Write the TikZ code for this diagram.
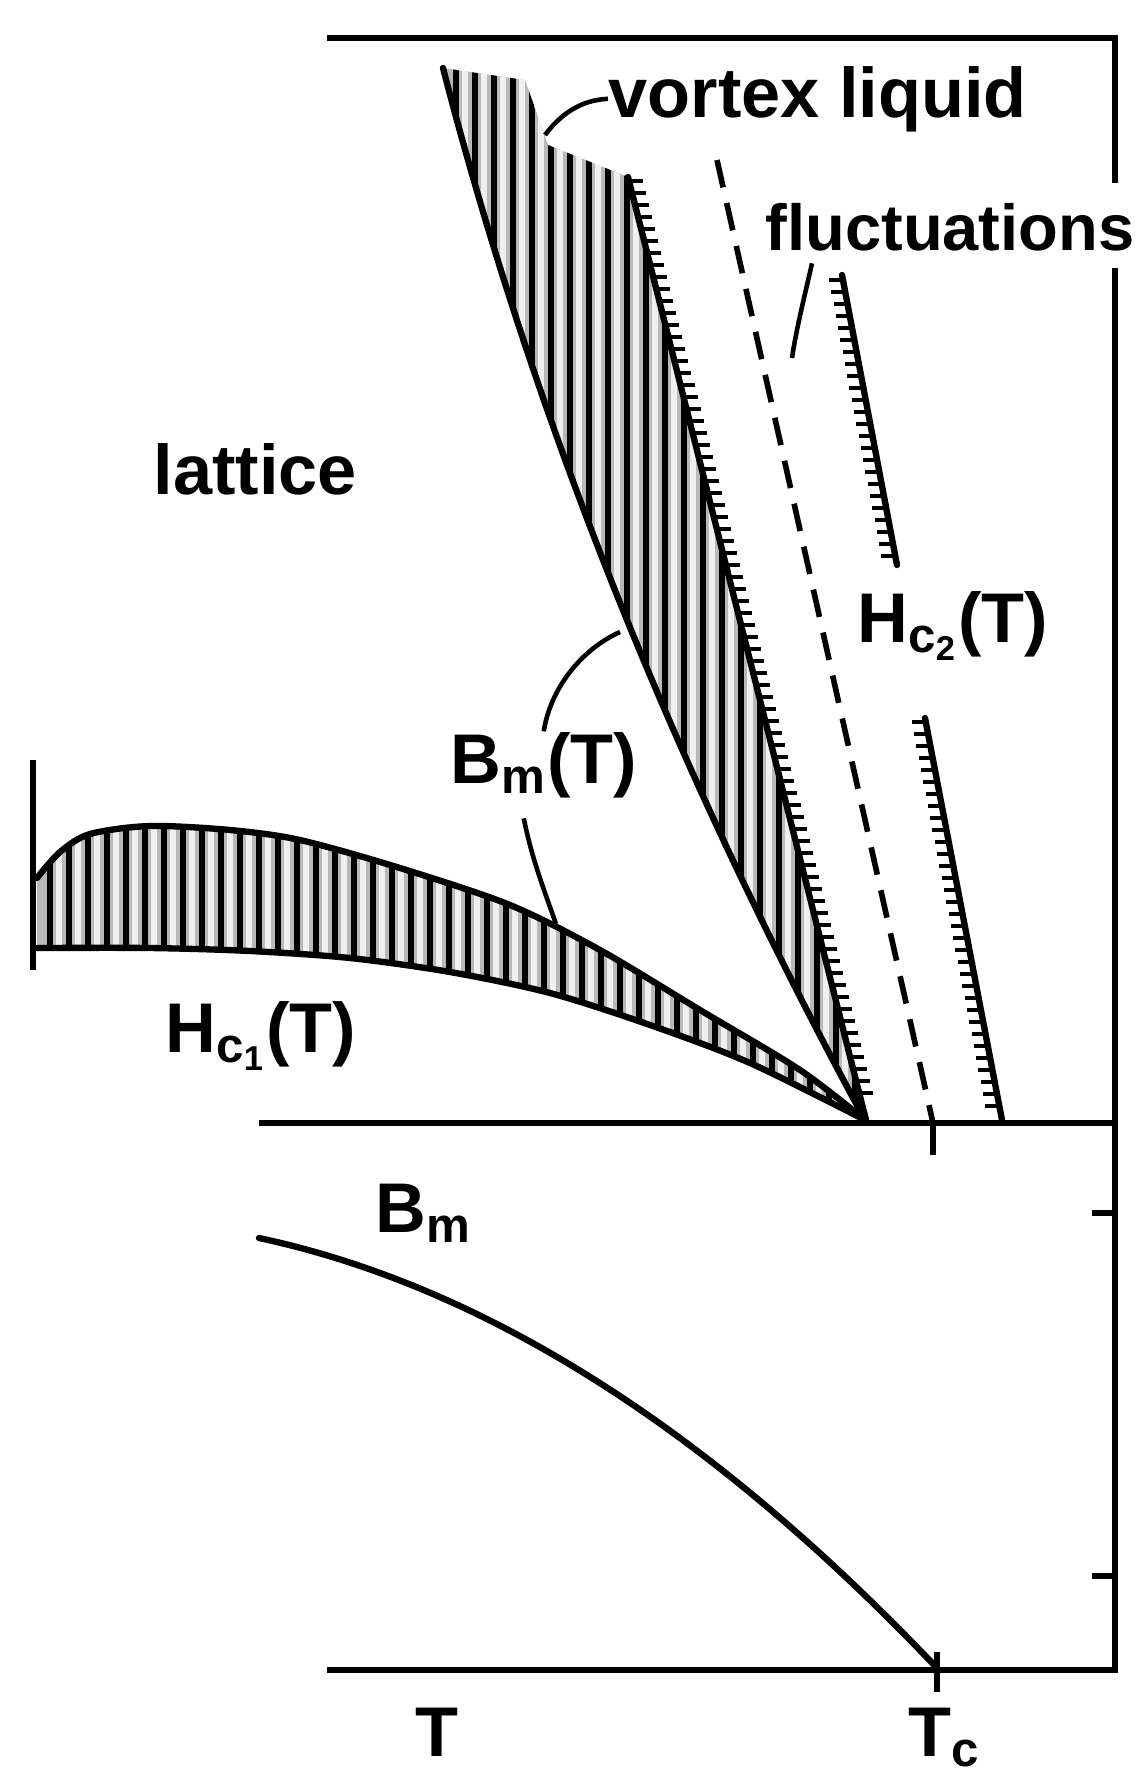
\documentclass[tikz,border=0pt]{standalone}
\usepackage{fontspec}
\setmainfont{Liberation Sans}
\tikzset{
	lbl/.style={anchor=base west, inner sep=0pt, font=\fontsize{20}{24}\selectfont\bfseries},
	frame/.style={line width=1.6pt},
	edge/.style={line width=1.8pt, line cap=round},
	leader/.style={line width=1.3pt},
	hatch/.style={line width=1.9pt},
	tickmark/.style={line width=1.4pt},
}

\begin{document}
\begin{tikzpicture}[x=0.01cm, y=-0.01cm]
	\useasboundingbox (0,0) rectangle (1138,1781);
	% H_c1 lens
	\begin{scope}
		\clip plot[smooth] coordinates {(37,878) (60,852) (90,834) (150,826) (230,830) (300,840) (400,868) (510,905) (600,950) (700,1010) (800,1070) (865,1120)}
			-- plot[smooth] coordinates {(865,1120) (750,1063) (650,1025) (550,993) (450,972) (350,958) (250,951) (150,948) (37,948)} -- cycle;
		\fill[gray!55] (0,700) rectangle (900,1140);
		\foreach \x in {50,69,...,880} {
			\draw[hatch] (\x,700) -- (\x,1140);
			\draw[line width=1.6pt, gray!12] (\x+9,700) -- (\x+9,1140);
		}
	\end{scope}
	% vortex liquid wedge
	\begin{scope}
		\clip (443,68) -- (525,80) -- (548,145) -- (628,177) -- (866,1120) .. controls (674,769) and (534,419) .. (443,68) -- cycle;
		\fill[gray!55] (430,60) rectangle (900,1130);
		\foreach \x in {456,475,...,880} {
			\draw[hatch] (\x,60) -- (\x,1130);
			\draw[line width=1.6pt, gray!12] (\x+9,60) -- (\x+9,1130);
		}
	\end{scope}
	\draw[edge] plot[smooth] coordinates {(37,878) (60,852) (90,834) (150,826) (230,830) (300,840) (400,868) (510,905) (600,950) (700,1010) (800,1070) (865,1120)};
	\draw[edge] plot[smooth] coordinates {(37,948) (150,948) (250,951) (350,958) (450,972) (550,993) (650,1025) (750,1063) (865,1120)};
	\draw[frame] (33,760) -- (33,970);
	% B_m(T) line and wedge edge
	\draw[edge] (443,68) .. controls (534,419) and (674,769) .. (865,1120);
	\draw[edge] (628,177) -- (866,1120);
	\foreach \y in {181,193,...,1100}
		\draw[tickmark] ({628+0.2524*(\y-177)},\y) -- ++(14,0);
	% fluctuation line
	\draw[line width=1.6pt, dash pattern=on 0.28cm off 0.16cm] (717,160) -- (933,1123);
	% H_c2(T)
	\draw[edge] (842,275) -- (897,565);
	\draw[edge] (925,718) -- (1002,1120);
	\foreach \y in {280,292,...,560}
		\draw[tickmark] ({842+0.19*(\y-275)},\y) -- ++(-14,0);
	\foreach \y in {722,734,...,1110}
		\draw[tickmark] ({925+0.1915*(\y-718)},\y) -- ++(-14,0);
	% frame and axes
	\draw[frame] (327,38) -- (1115,38) -- (1115,183);
	\draw[frame] (1115,268) -- (1115,1670) -- (327,1670);
	\draw[frame] (259,1123) -- (1115,1123);
	\draw[frame] (1115,1213) -- (1092,1213);
	\draw[frame] (1115,1576) -- (1092,1576);
	\draw[frame] (933,1123) -- (933,1155);
	\draw[frame] (937,1652) -- (937,1692);
	% melting field
	\draw[edge] (259,1238) .. controls (484,1286) and (710,1429) .. (937,1668);
	% labels
	\node[lbl] (lattice) at (153,494) {lattice};
	\node[lbl] (vliq) at (608,117) {vortex liquid};
	\node[lbl, font=\fontsize{18.5}{22}\selectfont\bfseries] (fluct) at (765,250) {fluctuations};
	\node[lbl] (hctwo) at (857,642) {H\textsubscript{c\textsubscript{2}}(T)};
	\node[lbl] (bmT) at (450,783) {B\textsubscript{m}(T)};
	\node[lbl] (hcone) at (165,1052) {H\textsubscript{c\textsubscript{1}}(T)};
	\node[lbl] (bmlow) at (375,1232) {B\textsubscript{m}};
	\node[lbl] (tlab) at (415,1756) {T};
	\node[lbl] (tclab) at (908,1756) {T\textsubscript{c}};
	% leaders
	\coordinate (vlend) at (545,135);
	\coordinate (flend) at (792,358);
	\coordinate (bmup) at (620,632);
	\coordinate (bmdown) at (556,924);
	\draw[leader] (vliq.west) .. controls (580,100) and (560,115) .. (vlend);
	\draw[leader] ([xshift=0.47cm,yshift=-0.12cm]fluct.south west) .. controls (806,290) and (796,330) .. (flend);
	\draw[leader] (bmT.north) .. controls (550,690) and (580,650) .. (bmup);
	\draw[leader] ([xshift=-0.2cm,yshift=-0.2cm]bmT.south) .. controls (532,860) and (546,895) .. (bmdown);
\end{tikzpicture}
\end{document}
